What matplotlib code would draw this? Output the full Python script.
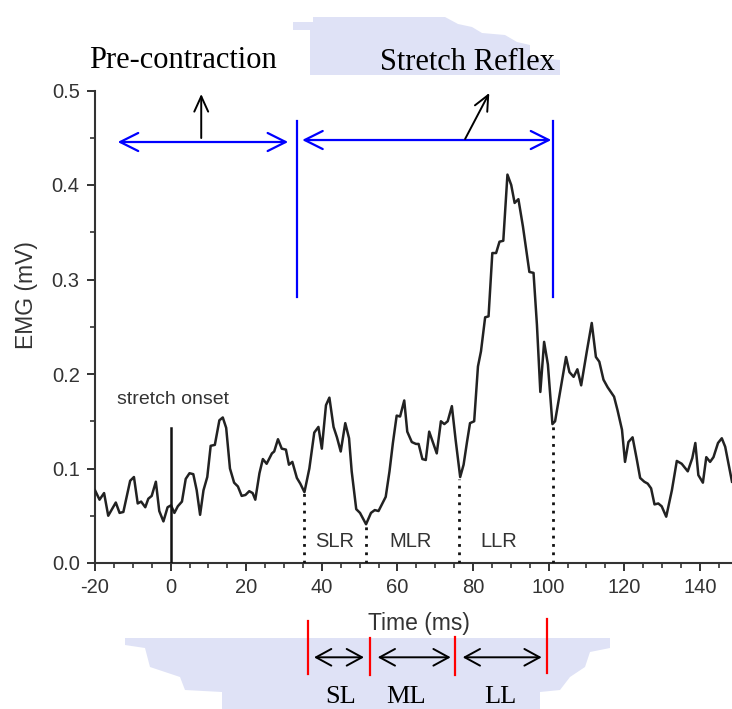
import matplotlib
matplotlib.use("Agg")
import matplotlib.pyplot as plt
from matplotlib.patches import Polygon, FancyArrowPatch
import matplotlib.transforms as mtransforms

plt.rcParams["axes.unicode_minus"] = False

W, H = 732, 709

# EMG trace
time_ms = [-20, -18.8, -17.6, -16.5, -14.5, -13.5, -12.5, -10.7, -9.7, -8.7, -7.8, -6.7,
           -5.9, -5.0, -3.9, -3.0, -1.9, -0.8, 0.1, 1.0, 1.9, 3.0, 4.0, 5.0, 6.0, 6.9,
           7.8, 8.7, 9.7, 10.6, 11.7, 12.9, 13.8, 14.7, 15.7, 16.8, 17.8, 18.8, 19.8,
           20.8, 21.7, 22.4, 23.5, 24.4, 25.4, 26.8, 27.4, 28.4, 29.4, 30.5, 31.3, 32.2,
           33.4, 34.3, 35.4, 36.7, 38.0, 39.1, 40.0, 41.1, 42.0, 43.1, 44.0, 45.0, 46.2,
           47.2, 47.9, 49.1, 50.1, 51.7, 53.0, 54.0, 55.0, 55.9, 56.9, 57.9, 58.8, 59.8,
           60.7, 61.8, 62.6, 63.8, 64.9, 65.6, 66.6, 67.5, 68.4, 70.4, 71.5, 72.4, 73.3,
           74.4, 75.4, 76.6, 77.5, 78.4, 79.2, 80.3, 81.3, 82.1, 83.2, 84.1, 85.1, 86.1,
           87.0, 88.0, 89.1, 90.1, 91.0, 92.0, 93.2, 94.9, 96.0, 96.9, 97.8, 98.8, 99.8,
           101.0, 101.7, 104.6, 105.5, 106.6, 107.6, 108.6, 110.1, 111.4, 112.5, 113.4,
           114.5, 115.6, 117.3, 118.2, 119.4, 120.2, 121.1, 122.2, 123.3, 124.2, 125.3,
           126.2, 127.1, 128.0, 129.0, 129.9, 131.1, 132.6, 133.9, 135.2, 136.8, 138.0,
           138.8, 139.6, 140.8, 141.7, 142.7, 143.6, 144.8, 145.8, 146.7, 148.5]
emg_mv = [0.077, 0.067, 0.074, 0.050, 0.064, 0.053, 0.054, 0.087, 0.091, 0.063, 0.065, 0.059,
          0.068, 0.071, 0.086, 0.055, 0.044, 0.059, 0.061, 0.053, 0.060, 0.065, 0.089, 0.095,
          0.094, 0.077, 0.051, 0.077, 0.091, 0.124, 0.125, 0.151, 0.154, 0.143, 0.100, 0.085,
          0.081, 0.071, 0.072, 0.076, 0.074, 0.067, 0.095, 0.110, 0.105, 0.116, 0.118, 0.131,
          0.121, 0.120, 0.104, 0.107, 0.090, 0.084, 0.075, 0.100, 0.138, 0.144, 0.121, 0.167,
          0.175, 0.144, 0.133, 0.118, 0.148, 0.132, 0.097, 0.057, 0.053, 0.041, 0.053, 0.056,
          0.055, 0.062, 0.070, 0.097, 0.127, 0.156, 0.155, 0.172, 0.139, 0.128, 0.126, 0.126,
          0.110, 0.109, 0.139, 0.116, 0.150, 0.147, 0.150, 0.166, 0.130, 0.091, 0.104, 0.128,
          0.148, 0.150, 0.208, 0.224, 0.260, 0.261, 0.328, 0.328, 0.340, 0.341, 0.411, 0.400,
          0.381, 0.385, 0.356, 0.308, 0.307, 0.252, 0.181, 0.234, 0.210, 0.147, 0.150, 0.218,
          0.202, 0.197, 0.205, 0.188, 0.224, 0.254, 0.218, 0.213, 0.194, 0.186, 0.176, 0.162,
          0.141, 0.107, 0.128, 0.133, 0.110, 0.090, 0.086, 0.084, 0.079, 0.062, 0.063, 0.060,
          0.049, 0.077, 0.108, 0.105, 0.097, 0.111, 0.127, 0.093, 0.085, 0.112, 0.107, 0.112,
          0.127, 0.132, 0.123, 0.086]

# phase boundaries (dotted lines) and their heights
bounds = [35.4, 51.6, 76.2, 101.1]
bound_tops = [0.075, 0.041, 0.089, 0.147]
phase_names = ["SLR", "MLR", "LLR"]
phase_x = [43.5, 63.6, 86.7]

onset_x, onset_top = 0, 0.143

# blue brackets
pre_span = (-14.0, 31.1)
reflex_span = (34.8, 100.7)
blue_marks = [33.5, 101.2]

# red markers below the plot, and the short names
red_x = [36.4, 52.7, 75.1, 99.5]
red_top = [621, 638, 637, 619]
red_bot = [674, 675, 675, 673]
short_names = ["SL", "ML", "LL"]
short_px = [340.7, 405.7, 500.7]


def fx(px):
    return px / W


def fy(py):
    return 1 - py / H


fig = plt.figure(figsize=(W / 100, H / 100), dpi=100)
ax = fig.add_axes([fx(95), fy(563), fx(732) - fx(95), fy(90.5) - fy(563)])

# faint watermark behind everything
wm_top = [(293, 22), (313, 22), (313, 17), (445, 17), (458, 24), (472, 27), (482, 33),
          (505, 35), (517, 42), (530, 45), (530, 57), (560, 60), (560, 75), (310, 75),
          (310, 30), (293, 30)]
wm_bot = [(125, 638), (610, 638), (610, 648), (590, 652), (585, 667), (570, 677),
          (560, 690), (540, 692), (540, 709), (222, 709), (222, 692), (185, 690),
          (180, 677), (150, 667), (145, 648), (125, 645)]
for poly in (wm_top, wm_bot):
    fig.patches.append(Polygon([(fx(a), fy(b)) for a, b in poly], closed=True,
                               transform=fig.transFigure, facecolor="#dfe2f6",
                               edgecolor="none", zorder=-10))

ax.set_facecolor("none")
ax.plot(time_ms, emg_mv, color="#222222", lw=1.8, zorder=3)
ax.plot([onset_x, onset_x], [0, onset_top], color="#111111", lw=1.8, zorder=3)
ax.text(-14.2, 0.168, "stretch onset", fontsize=14, color="#333333",
        family="Liberation Sans", va="baseline")

for b, top in zip(bounds, bound_tops):
    ax.plot([b, b], [0, top], color="#111111", lw=2, ls=(0, (1, 2)), zorder=3)
for name, x in zip(phase_names, phase_x):
    ax.text(x, 0.0225, name, fontsize=14.5, color="#333333", family="Liberation Sans",
            ha="center", va="center")

# blue annotations
for b in blue_marks:
    ax.plot([b, b], [0.2815, 0.468], color="#0000ff", lw=1.6, zorder=4)
blue_style = "<->,head_length=13,head_width=6.5"
for span, yy in ((pre_span, 0.4455), (reflex_span, 0.4476)):
    ax.annotate("", xy=(span[1], yy), xytext=(span[0], yy),
                arrowprops=dict(arrowstyle=blue_style, color="#0000ff", lw=1.6,
                                shrinkA=0, shrinkB=0, mutation_scale=1))
black_style = "->,head_length=11,head_width=5"
ax.annotate("", xy=(8.1, 0.4963), xytext=(8.1, 0.4497),
            arrowprops=dict(arrowstyle=black_style, color="black", lw=1.4,
                            shrinkA=0, shrinkB=0, mutation_scale=1))
ax.annotate("", xy=(84.3, 0.4974), xytext=(77.9, 0.4487),
            arrowprops=dict(arrowstyle=black_style, color="black", lw=1.4,
                            shrinkA=0, shrinkB=0, mutation_scale=1))

fig.text(fx(183), fy(61), "Pre-contraction", fontsize=22, family="Liberation Serif",
         ha="center", va="center")
fig.text(fx(467), fy(63), "Stretch Reflex", fontsize=22, family="Liberation Serif",
         ha="center", va="center")

# axes styling
ax.set_xlim(-20, 148.5)
ax.set_ylim(0, 0.5)
for side in ("top", "right"):
    ax.spines[side].set_visible(False)
for side in ("left", "bottom"):
    ax.spines[side].set_color("#333333")
    ax.spines[side].set_linewidth(1.5)
ax.set_xticks(range(-20, 141, 20))
ax.set_xticks(range(-20, 149, 5), minor=True)
ax.set_yticks([0.0, 0.1, 0.2, 0.3, 0.4, 0.5])
ax.set_yticklabels(["0.0", "0.1", "0.2", "0.3", "0.4", "0.5"])
ax.set_yticks([i * 0.05 for i in range(11)], minor=True)
ax.tick_params(which="major", length=6, width=1.4, color="#333333", labelsize=14.5,
               labelcolor="#333333", pad=5)
ax.tick_params(which="minor", length=3.5, width=1.2, color="#333333")
for lab in ax.get_xticklabels() + ax.get_yticklabels():
    lab.set_family("Liberation Sans")

ax.set_ylabel("EMG (mV)", fontsize=16.5, color="#333333", family="Liberation Sans")
ax.yaxis.set_label_coords(-0.108, 0.567)
ax.yaxis.label.set_va("center")
ax.set_xlabel("Time (ms)", fontsize=16.5, color="#333333", family="Liberation Sans")
ax.xaxis.set_label_coords(0.508, -0.129)
ax.xaxis.label.set_va("center")

# red markers and small arrows under the x axis
blend = mtransforms.blended_transform_factory(ax.transData, fig.transFigure)
for x, t0, t1 in zip(red_x, red_top, red_bot):
    ax.plot([x, x], [fy(t0), fy(t1)], color="#ff0000", lw=1.6, transform=blend,
            clip_on=False)
small_style = "<->,head_length=11,head_width=6"
gaps = [(314, 364), (377.7, 450.7), (462.7, 541.7)]
for a, b in gaps:
    fig.add_artist(FancyArrowPatch(
        (fx(a), fy(657.3)), (fx(b), fy(657.3)), transform=fig.transFigure,
        arrowstyle=small_style, color="black", lw=1.4, mutation_scale=1,
        shrinkA=0, shrinkB=0))
for name, px in zip(short_names, short_px):
    fig.text(fx(px), fy(703), name, fontsize=19, family="Liberation Serif",
             ha="center", va="baseline")

fig.savefig("out.png", dpi=100)
